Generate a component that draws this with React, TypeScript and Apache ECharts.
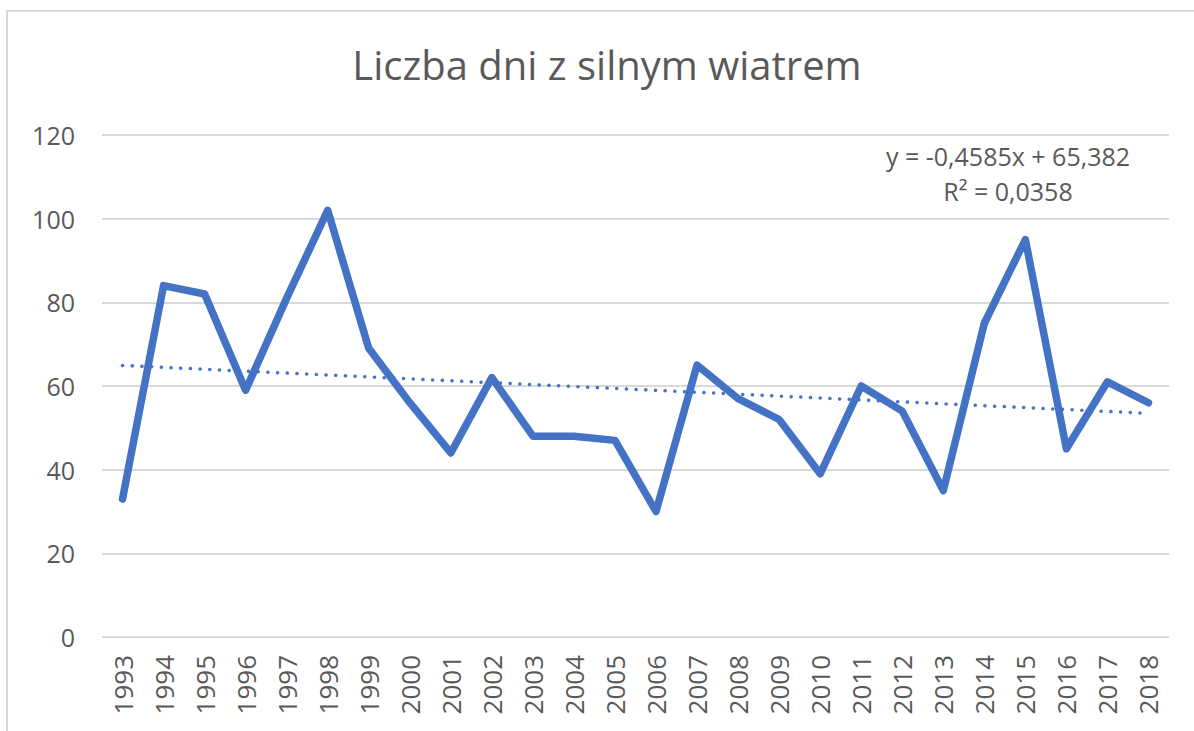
import React, { useEffect, useRef } from "react";
import * as echarts from "echarts";

const TITLE = "Liczba dni z silnym wiatrem";
const years = [
  "1993", "1994", "1995", "1996", "1997", "1998", "1999", "2000", "2001", "2002",
  "2003", "2004", "2005", "2006", "2007", "2008", "2009", "2010", "2011", "2012",
  "2013", "2014", "2015", "2016", "2017", "2018",
];
const windDays = [
  33, 84, 82, 59, 81, 102, 69, 56, 44, 62,
  48, 48, 47, 30, 65, 57, 52, 39, 60, 54,
  35, 75, 95, 45, 61, 56,
];
const yTicks = [0, 20, 40, 60, 80, 100, 120];
// Linear trendline shown on the chart: y = SLOPE * x + INTERCEPT (x = 1..n)
const TREND_SLOPE = -0.4585;
const TREND_INTERCEPT = 65.382;
const EQUATION_LABEL = "y = -0,4585x + 65,382";
const R2_LABEL = "R² = 0,0358";

const TEXT = "#595959";
const GRID = "#d9d9d9";
const BLUE = "#4472C4";
const FONT = "'Open Sans', 'Noto Sans', sans-serif";

export default function App() {
  const ref = useRef<HTMLDivElement>(null);

  useEffect(() => {
    if (!ref.current) return;
    const chart = echarts.init(ref.current, null, { renderer: "svg" });
    const trend = years.map((_, i) => TREND_SLOPE * (i + 1) + TREND_INTERCEPT);
    chart.setOption({
      animation: false,
      backgroundColor: "#ffffff",
      graphic: [
        {
          type: "rect",
          shape: { x: 7, y: 11, width: 1300, height: 800 },
          style: { fill: "none", stroke: GRID, lineWidth: 2 },
          silent: true,
        },
        {
          type: "text",
          x: 607,
          y: 44,
          style: {
            text: TITLE,
            fill: TEXT,
            font: `40px ${FONT}`,
            textAlign: "center",
            textVerticalAlign: "top",
          },
        },
        {
          type: "text",
          x: 1008,
          y: 156,
          style: {
            text: EQUATION_LABEL,
            fill: TEXT,
            font: `25px ${FONT}`,
            textAlign: "center",
            textVerticalAlign: "middle",
          },
        },
        {
          type: "text",
          x: 1008,
          y: 191,
          style: {
            text: R2_LABEL,
            fill: TEXT,
            font: `25px ${FONT}`,
            textAlign: "center",
            textVerticalAlign: "middle",
          },
        },
      ],
      grid: { left: 102, right: 25, top: 135, bottom: 94 },
      xAxis: {
        type: "category",
        data: years,
        boundaryGap: true,
        axisLine: { show: false },
        axisTick: { show: false },
        axisLabel: {
          rotate: 90,
          margin: 18,
          color: TEXT,
          fontSize: 26,
          fontFamily: FONT,
          interval: 0,
        },
      },
      yAxis: {
        type: "value",
        min: yTicks[0],
        max: yTicks[yTicks.length - 1],
        interval: 20,
        axisLine: { show: false },
        axisTick: { show: false },
        axisLabel: {
          margin: 27,
          color: TEXT,
          fontSize: 25,
          fontFamily: FONT,
        },
        splitLine: { lineStyle: { color: GRID, width: 2 } },
      },
      series: [
        {
          type: "line",
          name: "Liczba dni",
          data: windDays,
          symbol: "none",
          lineStyle: { color: BLUE, width: 7.5, join: "round", cap: "round" },
          z: 3,
        },
        {
          type: "line",
          name: "Trend",
          data: trend,
          symbol: "none",
          lineStyle: { color: BLUE, width: 3.5, type: [0.1, 9.6], cap: "round" },
          z: 2,
        },
      ],
    });
    return () => chart.dispose();
  }, []);

  return (
    <div
      ref={ref}
      style={{ position: "fixed", left: 0, top: 0, width: 1194, height: 731 }}
    />
  );
}
